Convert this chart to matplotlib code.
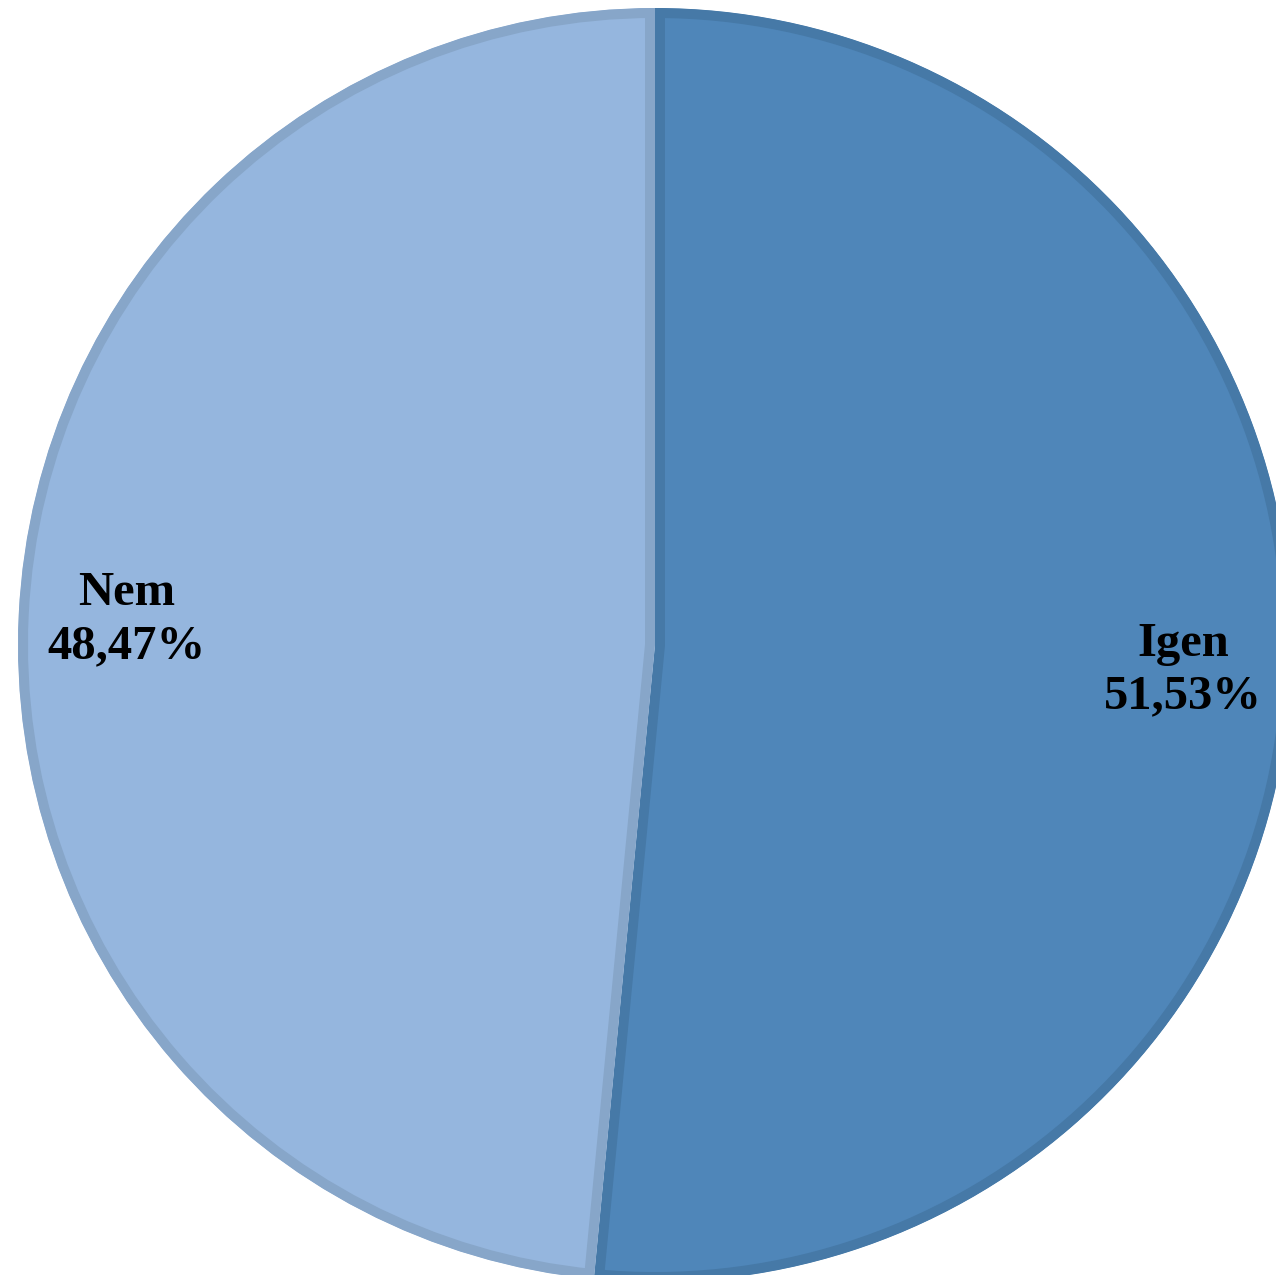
import numpy as np
import matplotlib
matplotlib.use("Agg")
from matplotlib import pyplot as plt

labels = ["Igen", "Nem"]
shares = [51.53, 48.47]
fills = ["#4f86b9", "#95b6de"]
edges = ["#4679a7", "#87a6c9"]

fig = plt.figure(figsize=(12.76, 12.75), dpi=100)
ax = fig.add_axes([0, 0, 1, 1])

cx, cy, r = 655, 630, 637
wedges, _ = ax.pie(shares, colors=fills, startangle=90, counterclock=False,
                   center=(cx, cy), radius=r, frame=True,
                   wedgeprops=dict(linewidth=14.4))
ax.set_xlim(0, 1276)
ax.set_ylim(0, 1275)
ax.set_aspect("equal")
ax.axis("off")

for w, ec, lab, val in zip(wedges, edges, labels, shares):
    w.set_edgecolor(ec)
    w.set_clip_on(True)
    w.set_clip_path(w.get_path(), w.get_transform())
    mid = np.deg2rad((w.theta1 + w.theta2) / 2)
    tx = cx + 0.83 * r * np.cos(mid)
    ty = cy + 0.83 * r * np.sin(mid)
    txt = f"{lab}\n{val:.2f}%".replace(".", ",")
    ax.text(tx, ty, txt, ha="center", va="center", fontsize=35,
            fontweight="bold", family="Liberation Serif", linespacing=1.25)

fig.savefig("out.png", dpi=100)
